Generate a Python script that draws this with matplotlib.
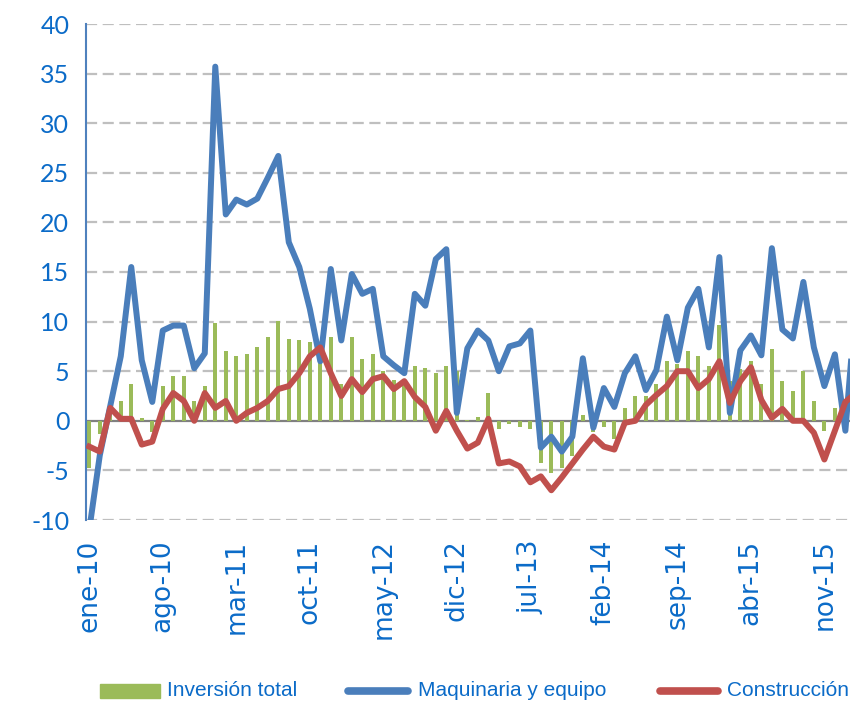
import numpy as np
import matplotlib.pyplot as plt
from matplotlib.patches import Rectangle
from matplotlib.lines import Line2D

# Datos mensuales, ene-10 a feb-16 (variacion % anual)
inversion_total = [-4.8, -1.3, 0.8, 2.0, 3.7, 0.3, -1.1, 3.5, 4.5, 4.5,
                   2.0, 3.5, 9.9, 7.0, 6.5, 6.7, 7.4, 8.4, 10.1, 8.2,
                   8.1, 7.9, 7.4, 8.4, 3.7, 8.4, 6.2, 6.7, 5.0, 4.1,
                   4.2, 5.5, 5.3, 4.8, 5.5, 5.0, 0.1, 0.4, 2.8, -0.8,
                   -0.3, -0.6, -0.8, -4.3, -5.3, -4.8, -3.5, 0.6, -1.1, -0.6,
                   -1.8, 1.3, 2.5, 2.5, 3.7, 6.0, 5.7, 7.0, 6.5, 5.5,
                   9.7, 4.0, 5.2, 6.0, 3.7, 7.2, 4.0, 3.0, 5.0, 2.0,
                   -1.0, 1.3, 1.5, 1.0]

maquinaria = [-11.0, -3.5, 1.5, 6.5, 15.5, 6.1, 1.9, 9.1, 9.6, 9.6,
              5.3, 6.8, 35.7, 20.8, 22.3, 21.8, 22.4, 24.5, 26.7, 18.0,
              15.5, 11.3, 6.0, 15.3, 8.1, 14.8, 12.8, 13.3, 6.5, 5.6,
              4.8, 12.8, 11.6, 16.3, 17.3, 0.8, 7.3, 9.1, 8.1, 5.0,
              7.5, 7.8, 9.1, -2.7, -1.6, -3.1, -1.6, 6.3, -0.7, 3.3,
              1.4, 4.8, 6.5, 3.1, 5.1, 10.5, 6.1, 11.4, 13.3, 7.4,
              16.5, 0.8, 7.1, 8.6, 6.6, 17.4, 9.2, 8.3, 14.0, 7.4,
              3.5, 6.7, -1.0, 12.0]

construccion = [-2.6, -3.1, 1.3, 0.2, 0.2, -2.4, -2.1, 1.2, 2.8, 2.0,
                0.0, 2.8, 1.3, 2.0, 0.0, 0.8, 1.3, 2.0, 3.2, 3.5,
                4.8, 6.5, 7.4, 4.8, 2.5, 4.2, 2.9, 4.2, 4.5, 3.2,
                4.0, 2.4, 1.4, -1.0, 1.0, -1.0, -2.8, -2.2, 0.2, -4.3,
                -4.1, -4.6, -6.2, -5.6, -7.0, -5.7, -4.3, -2.9, -1.6, -2.6,
                -2.9, -0.2, 0.0, 1.6, 2.6, 3.5, 5.0, 5.0, 3.3, 4.2,
                6.0, 1.8, 4.0, 5.4, 2.1, 0.3, 1.2, 0.0, 0.0, -1.2,
                -3.9, -1.0, 1.9, 2.8]

etiquetas_x = ["ene-10", "ago-10", "mar-11", "oct-11", "may-12", "dic-12",
               "jul-13", "feb-14", "sep-14", "abr-15", "nov-15"]
pos_x = [0, 7, 14, 21, 28, 35, 42, 49, 56, 63, 70]
ticks_y = [-10, -5, 0, 5, 10, 15, 20, 25, 30, 35, 40]
nombres = ["Inversión total", "Maquinaria y equipo", "Construcción"]

VERDE = "#9BBB59"
AZUL = "#4A7EBB"
ROJO = "#C0504D"
TEXTO = "#0B6BC8"

W, H = 850, 705
x = np.arange(len(maquinaria))

fig = plt.figure(figsize=(W / 100, H / 100), dpi=100)
ax = fig.add_axes([86 / W, 1 - 520 / H, 1 - 86 / W, (520 - 24) / H])

# rejilla horizontal punteada
for v in ticks_y:
    if v != 0:
        ax.axhline(v, color="#BFBFBF", lw=1.6, ls=(0, (5, 2.5)), zorder=0)
ax.axhline(0, color="#808080", lw=1.6, zorder=1)

ax.bar(x, inversion_total, width=0.4, color=VERDE, zorder=2)
ax.plot(x, maquinaria, color=AZUL, lw=4.3, zorder=3, solid_joinstyle="round")
ax.plot(x, construccion, color=ROJO, lw=4.3, zorder=4, solid_joinstyle="round")

ax.set_xlim(-0.31, 72.44)
ax.set_ylim(-10, 40)
ax.set_yticks(ticks_y)
ax.set_yticklabels([str(v) for v in ticks_y], fontsize=18, color=TEXTO,
                   family=["Lato", "DejaVu Sans"])
ax.set_xticks(pos_x)
ax.set_xticklabels(etiquetas_x, rotation=90, fontsize=19, color=TEXTO,
                   va="top", ha="center")
ax.tick_params(axis="both", length=0)
ax.tick_params(axis="x", pad=14)
ax.tick_params(axis="y", pad=12)

for s in ["top", "right", "bottom"]:
    ax.spines[s].set_visible(False)
ax.spines["left"].set_color("#4F81BD")
ax.spines["left"].set_linewidth(1.5)

# leyenda dibujada a mano (en pixeles de la figura)
yl = 1 - 691 / H
fig.add_artist(Rectangle((100 / W, 1 - 698 / H), 60 / W, 14 / H,
                         transform=fig.transFigure, color=VERDE))
fig.add_artist(Line2D([348 / W, 408 / W], [yl, yl], transform=fig.transFigure,
                      color=AZUL, lw=5.5, solid_capstyle="round"))
fig.add_artist(Line2D([660 / W, 718 / W], [yl, yl], transform=fig.transFigure,
                      color=ROJO, lw=5.5, solid_capstyle="round"))
for xt, txt in zip([167, 418, 727], nombres):
    fig.text(xt / W, yl, txt, color=TEXTO, fontsize=15, va="center", ha="left",
             family=["Liberation Sans", "DejaVu Sans"])

fig.savefig("out.png", dpi=100)
